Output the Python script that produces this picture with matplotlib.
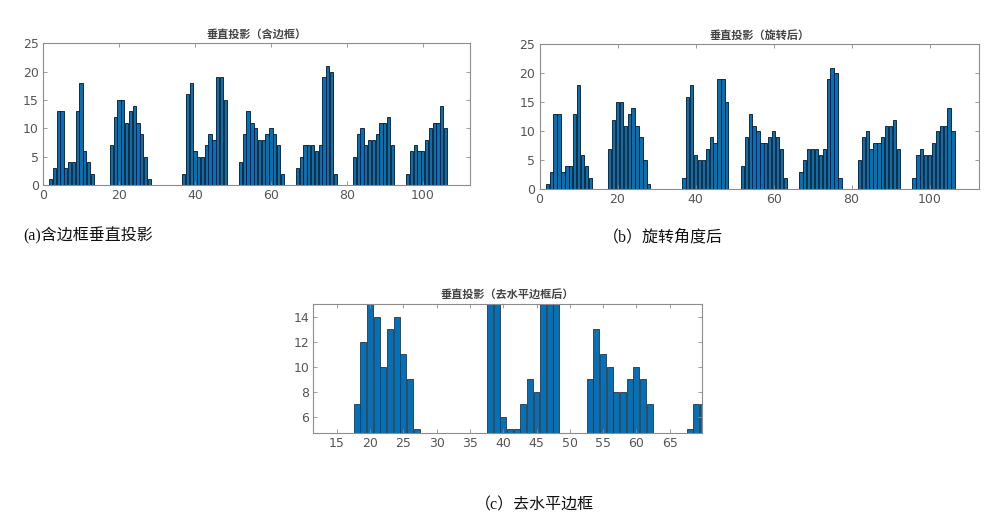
import matplotlib
matplotlib.use("Agg")
from matplotlib import pyplot as plt

# column positions and vertical projection counts
cols_border = [2, 3, 4, 5, 6, 7, 8, 9, 10, 11, 12, 13,
               18, 19, 20, 21, 22, 23, 24, 25, 26, 27, 28,
               37, 38, 39, 40, 41, 42, 43, 44, 45, 46, 47, 48,
               52, 53, 54, 55, 56, 57, 58, 59, 60, 61, 62, 63,
               67, 68, 69, 70, 71, 72, 73, 74, 75, 76, 77,
               82, 83, 84, 85, 86, 87, 88, 89, 90, 91, 92,
               96, 97, 98, 99, 100, 101, 102, 103, 104, 105, 106]
proj_border = [1, 3, 13, 13, 3, 4, 4, 13, 18, 6, 4, 2,
               7, 12, 15, 15, 11, 13, 14, 11, 9, 5, 1,
               2, 16, 18, 6, 5, 5, 7, 9, 8, 19, 19, 15,
               4, 9, 13, 11, 10, 8, 8, 9, 10, 9, 7, 2,
               3, 5, 7, 7, 7, 6, 7, 19, 21, 20, 2,
               5, 9, 10, 7, 8, 8, 9, 11, 11, 12, 7,
               2, 6, 7, 6, 6, 8, 10, 11, 11, 14, 10]

cols_rotated = list(cols_border)
proj_rotated = list(proj_border)

cols_noline = [18, 19, 20, 21, 22, 23, 24, 25, 26, 27,
               37, 38, 39, 40, 41, 42, 43, 44, 45, 46, 47, 48,
               52, 53, 54, 55, 56, 57, 58, 59, 60, 61, 62, 63,
               67, 68, 69, 70]
proj_noline = [7, 12, 15, 14, 10, 13, 14, 11, 9, 5,
               2, 16, 18, 6, 5, 5, 7, 9, 8, 19, 19, 15,
               4, 9, 13, 11, 10, 8, 8, 9, 10, 9, 7, 2,
               3, 5, 7, 7]

bar_color = "#0072BD"
tick_color = "#555555"
cjk = ["Noto Sans CJK SC", "DejaVu Sans"]
caption_font = ["Liberation Serif", "Noto Sans CJK SC"]


def style_axes(ax):
    for s in ax.spines.values():
        s.set_color("#8c8c8c")
        s.set_linewidth(0.8)
    ax.tick_params(direction="in", top=True, right=True, length=3,
                   width=0.6, colors="#8c8c8c", labelcolor=tick_color,
                   labelsize=9, pad=3)


fig = plt.figure(figsize=(9.9, 5.16), dpi=100)

# (a)
ax1 = fig.add_axes([0.0434, 0.6415, 0.4313, 0.2746])
ax1.bar(cols_border, proj_border, width=0.85, color=bar_color,
        edgecolor="#111111", linewidth=0.6)
ax1.set_xlim(0, 112.4)
ax1.set_ylim(0, 25)
ax1.set_xticks([0, 20, 40, 60, 80, 100])
ax1.set_yticks([0, 5, 10, 15, 20, 25])
style_axes(ax1)
ax1.set_title("垂直投影（含边框）", family=cjk, fontsize=8,
              fontweight="bold", color="#444444", pad=4)

# (b)
ax2 = fig.add_axes([0.545, 0.6331, 0.444, 0.281])
ax2.bar(cols_rotated, proj_rotated, width=0.85, color=bar_color,
        edgecolor="#111111", linewidth=0.6)
ax2.set_xlim(0, 112.7)
ax2.set_ylim(0, 25)
ax2.set_xticks([0, 20, 40, 60, 80, 100])
ax2.set_yticks([0, 5, 10, 15, 20, 25])
style_axes(ax2)
ax2.set_title("垂直投影（旋转后）", family=cjk, fontsize=8,
              fontweight="bold", color="#444444", pad=4)

# (c)
ax3 = fig.add_axes([0.3165, 0.1614, 0.3923, 0.2488])
ax3.bar(cols_noline, proj_noline, width=0.9, color=bar_color,
        edgecolor="#333333", linewidth=0.6)
ax3.set_xlim(11.5, 69.8)
ax3.set_ylim(4.72, 15)
ax3.set_xticks(list(range(15, 70, 5)))
ax3.set_yticks([6, 8, 10, 12, 14])
style_axes(ax3)
ax3.set_title("垂直投影（去水平边框后）", family=cjk, fontsize=8,
              fontweight="bold", color="#444444", pad=4)

fig.text(23 / 990, 1 - 236 / 516, "(a)含边框垂直投影", family=caption_font,
         fontsize=11.5, va="center", ha="left", color="#111111")
fig.text(603 / 990, 1 - 237 / 516, "（b）旋转角度后", family=caption_font,
         fontsize=11.5, va="center", ha="left", color="#111111")
fig.text(475 / 990, 1 - 505 / 516, "（c）去水平边框", family=caption_font,
         fontsize=11.5, va="center", ha="left", color="#111111")

fig.savefig("out.png", dpi=100)
